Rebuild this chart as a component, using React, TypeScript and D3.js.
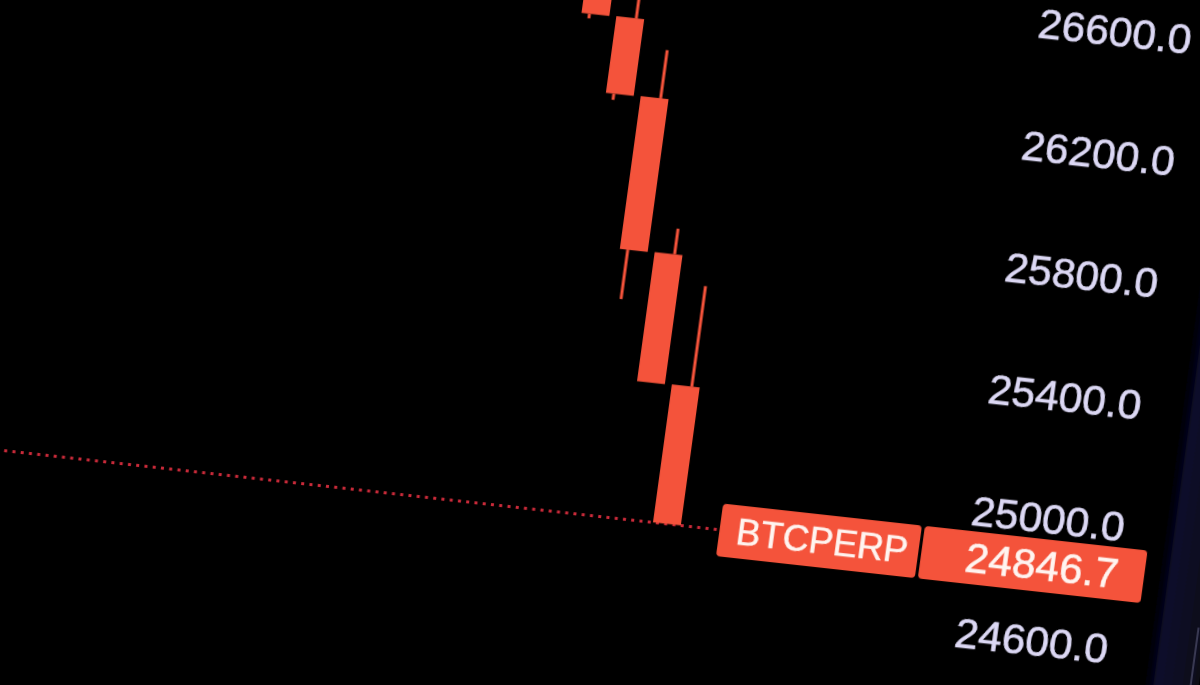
import React from "react";
import * as d3 from "d3";

// candles, oldest first (all bearish)
const candleIdx = [0, 1, 2, 3, 4];
const opens = [26750, 26472, 26222, 25722, 25300];
const closes = [26470, 26220, 25720, 25298, 24846.7];
const highs = [26800, 26560, 26380, 25806, 25630];
const lows = [26455, 26200, 25558, 25298, 24846.7];

const tickValues = [24600, 25000, 25400, 25800, 26200, 26600];
const symbol = "BTCPERP";
const lastPrice = 24846.7;

const RED = "#f4533b";
const TEXT = "#dcd8f4";
const FONT = "'Liberation Sans', Arial, sans-serif";

export default function App() {
    // chart frame before the photo skew
    const y = d3.scaleLinear().domain([26600, 24600]).range([-23.2, 591.2]);
    const x = d3.scaleLinear().domain([0, 4]).range([551, 691]);
    const bodyW = 28;
    const fmt = d3.format(".1f");

    const lastY = y(lastPrice);
    const boxH = 53;
    const labelRight = 1145;

    return (
        <svg
            width={1200}
            height={685}
            style={{ position: "fixed", left: 0, top: 0, background: "#000", display: "block" }}
        >
            <defs>
                <filter id="soft" x="-5%" y="-5%" width="110%" height="110%">
                    <feGaussianBlur stdDeviation="0.6" />
                </filter>
                <linearGradient id="bezel" x1="0" x2="1" y1="0" y2="0">
                    <stop offset="0%" stopColor="#000" stopOpacity={0} />
                    <stop offset="30%" stopColor="#0b0b2c" stopOpacity={1} />
                    <stop offset="100%" stopColor="#070718" stopOpacity={1} />
                </linearGradient>
            </defs>
            <rect width={1200} height={685} fill="#000" />
            {/* tilted photo of the screen */}
            <g transform="matrix(0.994 0.110 -0.1357 0.9907 50 -62.8)" filter="url(#soft)">
                {/* screen edge */}
                <rect x={1180} y={-200} width={60} height={1000} fill="url(#bezel)" />
                <line x1={1232} x2={1232} y1={560} y2={800} stroke="#6a6a8a" strokeWidth={1.5} opacity={0.7} />

                {/* last price line */}
                <line
                    x1={-150}
                    x2={744}
                    y1={lastY}
                    y2={lastY}
                    stroke="#cc2c3a"
                    strokeWidth={3}
                    strokeDasharray="3 5.3"
                />

                {/* candles */}
                {candleIdx.map((i) => {
                    const cx = x(i);
                    const top = y(Math.max(opens[i], closes[i]));
                    const bot = y(Math.min(opens[i], closes[i]));
                    return (
                        <g key={i}>
                            <line x1={cx + 6} x2={cx + 6} y1={y(highs[i])} y2={top} stroke={RED} strokeWidth={3} />
                            <line x1={cx - 6} x2={cx - 6} y1={bot} y2={y(lows[i])} stroke={RED} strokeWidth={3} />
                            <rect x={cx - bodyW / 2} y={top} width={bodyW} height={Math.max(1, bot - top)} fill={RED} />
                        </g>
                    );
                })}

                {/* price axis */}
                {tickValues.map((t) => (
                    <text
                        key={t}
                        x={labelRight}
                        y={y(t)}
                        textAnchor="end"
                        dominantBaseline="central"
                        fill={TEXT}
                        stroke={TEXT}
                        strokeWidth={0.6}
                        fontFamily={FONT}
                        fontSize={42.5}
                    >
                        {fmt(t)}
                    </text>
                ))}

                {/* last price labels */}
                <rect x={744} y={lastY - boxH / 2} width={200} height={boxH} rx={4} fill={RED} />
                <rect x={947} y={lastY - boxH / 2} width={224} height={boxH} rx={4} fill={RED} />
                <text
                    x={761}
                    y={lastY}
                    dominantBaseline="central"
                    fill="#fff4f0"
                    stroke="#fff4f0"
                    strokeWidth={0.5}
                    fontFamily={FONT}
                    fontSize={36.5}
                >
                    {symbol}
                </text>
                <text
                    x={labelRight}
                    y={lastY}
                    textAnchor="end"
                    dominantBaseline="central"
                    fill="#fff4f0"
                    stroke="#fff4f0"
                    strokeWidth={0.6}
                    fontFamily={FONT}
                    fontSize={42.5}
                >
                    {fmt(lastPrice)}
                </text>
            </g>
        </svg>
    );
}
